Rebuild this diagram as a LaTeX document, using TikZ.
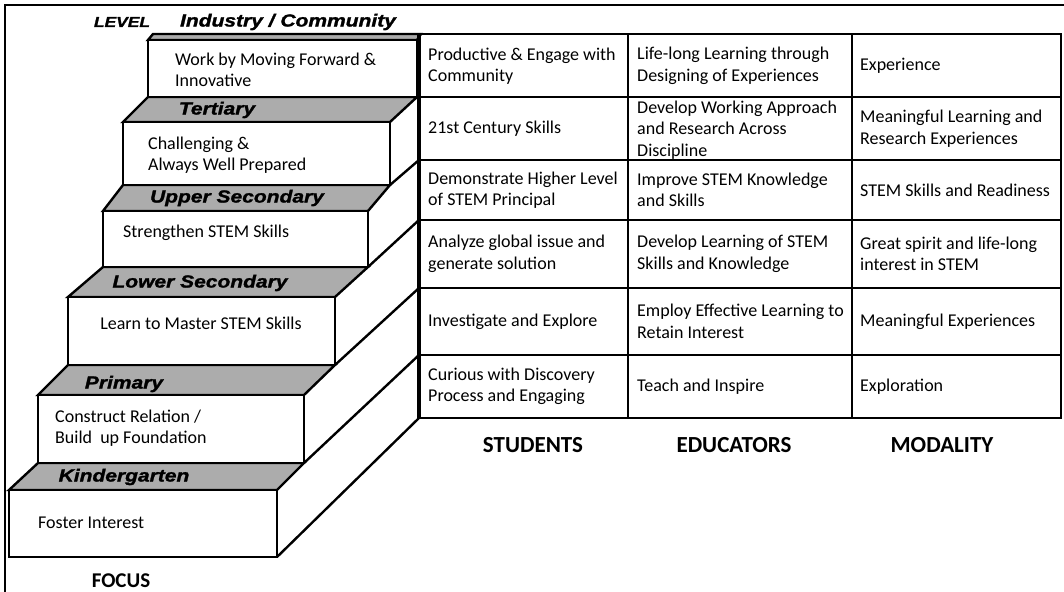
\documentclass[tikz,border=0pt]{standalone}
\usepackage{fontspec}
\setmainfont{Carlito}
\newfontfamily\blk[FakeStretch=1.2,FakeBold=1.5]{Liberation Sans}
\definecolor{topgray}{RGB}{172,172,172}
\begin{document}
\begin{tikzpicture}[x=1pt,y=-1pt,
  edge/.style={line width=2.4pt, line join=miter},
  topface/.style={edge, fill=topgray},
  frontface/.style={edge, fill=white},
  body/.style={font=\fontsize{18}{21.5}\selectfont, align=left, inner sep=0pt},
  cell/.style={body, anchor=west},
  lvl/.style={font=\blk\bfseries\itshape\fontsize{17.5}{20}\selectfont, inner sep=0pt},
  head/.style={font=\bfseries\fontsize{23}{26}\selectfont, inner sep=0pt}]
\useasboundingbox (0,0) rectangle (1064,591);
\fill[white] (0,0) rectangle (1064,591);
\draw[line width=1.6pt] (5,600) -- (5,5) -- (1070,5);

% top faces
\draw[topface] (148,40) -- (417,40) -- (421,34) -- (153,34) -- cycle;
\draw[topface] (123,122) -- (390,122) -- (417,97) -- (148,97) -- cycle;
\draw[topface] (103,211) -- (368,211) -- (390,185) -- (123,185) -- cycle;
\draw[topface] (68,297) -- (335,297) -- (368,267) -- (103,267) -- cycle;
\draw[topface] (38,395) -- (304,395) -- (335,365) -- (68,365) -- cycle;
\draw[topface] (9,490) -- (277,490) -- (304,463) -- (38,463) -- cycle;

% front faces
\draw[frontface] (148,40) rectangle (417,97);
\draw[frontface] (123,122) rectangle (390,185);
\draw[frontface] (103,211) rectangle (368,267);
\draw[frontface] (68,297) rectangle (335,365);
\draw[frontface] (38,395) rectangle (304,463);
\draw[frontface] (9,490) rectangle (277,557);

% side diagonals
\draw[edge] (390,185) -- (419,160);
\draw[edge] (368,267) -- (419,220);
\draw[edge] (335,365) -- (419,288);
\draw[edge] (304,463) -- (419,355);
\draw[edge] (277,557) -- (419,418);

% table
\draw[edge] (419,34) rectangle (1061,418);
\foreach \y in {97,160,220,288,355} \draw[edge] (419,\y) -- (1061,\y);
\foreach \x in {628,852} \draw[edge] (\x,34) -- (\x,418);
\draw[line width=3.4pt] (419,32.8) -- (419,419.2);

% level labels
\node[lvl, font=\blk\bfseries\itshape\fontsize{14.5}{16}\selectfont] (level) at (122,22) {LEVEL};
\node[lvl] (l1) at (288,22) {Industry / Community};
\node[lvl] (l2) at (217,110) {Tertiary};
\node[lvl] (l3) at (237,198) {Upper Secondary};
\node[lvl] (l4) at (200,283) {Lower Secondary};
\node[lvl] (l5) at (124,384) {Primary};
\node[lvl] (l6) at (124,477) {Kindergarten};

% focus texts
\node[cell] (f1) at (175,70) {Work by Moving Forward \&\\Innovative};
\node[cell] (f2) at (148,155) {Challenging \&\\Always Well Prepared};
\node[cell] (f3) at (123,233) {Strengthen STEM Skills};
\node[body] (f4) at (201,323) {Learn to Master STEM Skills};
\node[cell] (f5) at (55,428) {Construct Relation /\\Build\ \ up Foundation};
\node[cell] (f6) at (38,523) {Foster Interest};

% students
\node[cell] (a1) at (428,66) {Productive \& Engage with\\Community};
\node[cell] (a2) at (428,128.5) {21st Century Skills};
\node[cell] (a3) at (428,190) {Demonstrate Higher Level\\of STEM Principal};
\node[cell] (a4) at (428,254) {Analyze global issue and\\generate solution};
\node[cell] (a5) at (428,321.5) {Investigate and Explore};
\node[cell] (a6) at (428,386.5) {Curious with Discovery\\Process and Engaging};

% educators
\node[cell] (b1) at (637,66) {Life-long Learning through\\Designing of Experiences};
\node[cell] (b2) at (637,130) {Develop Working Approach\\and Research Across\\Discipline};
\node[cell] (b3) at (637,190) {Improve STEM Knowledge\\and Skills};
\node[cell] (b4) at (637,254) {Develop Learning of STEM\\Skills and Knowledge};
\node[cell] (b5) at (637,321.5) {Employ Effective Learning to\\Retain Interest};
\node[cell] (b6) at (637,386.5) {Teach and Inspire};

% modality
\node[cell] (c1) at (860,66) {Experience};
\node[cell] (c2) at (860,128.5) {Meaningful Learning and\\Research Experiences};
\node[cell] (c3) at (860,190) {STEM Skills and Readiness};
\node[cell] (c4) at (860,254) {Great spirit and life-long\\interest in STEM};
\node[cell] (c5) at (860,321.5) {Meaningful Experiences};
\node[cell] (c6) at (860,386.5) {Exploration};

% headings
\node[head] (hs) at (533,445) {STUDENTS};
\node[head] (he) at (734,445) {EDUCATORS};
\node[head] (hm) at (942,445) {MODALITY};
\node[head, font=\bfseries\fontsize{21}{24}\selectfont] (hf) at (121,581) {FOCUS};
\end{tikzpicture}
\end{document}
